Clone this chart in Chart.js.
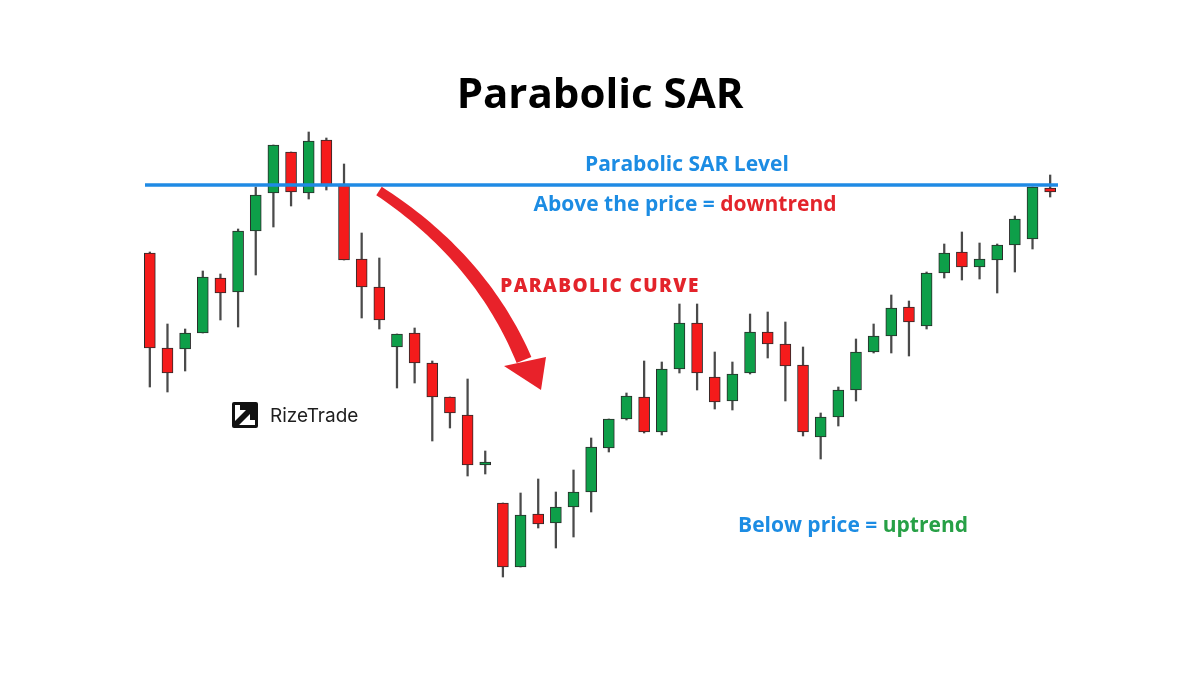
<!DOCTYPE html>
<html>
<head>
<meta charset="utf-8">
<script src="https://cdn.jsdelivr.net/npm/chart.js@4.4.1/dist/chart.umd.min.js"></script>
<style>
  html, body { margin: 0; padding: 0; background: #fff; }
  #wrap { position: relative; width: 1200px; height: 675px; overflow: hidden; font-family: "Open Sans", sans-serif; }
  #chart { position: absolute; left: 0; top: 0; }
  .lbl { position: absolute; white-space: nowrap; font-weight: 700; line-height: 1; }
  .blue { color: #1c8ce3; }
  .red { color: #e3242b; }
  .green { color: #27a046; }
  #title { left: 0; width: 1200px; text-align: center; top: 71px; font-size: 42px; color: #000; }
  #sarLevel { left: 585px; width: 200px; text-align: center; top: 153px; font-size: 21px; }
  #above { left: 485px; width: 400px; text-align: center; top: 193px; font-size: 21px; }
  #curve { left: 450px; width: 300px; text-align: center; top: 276px; font-size: 19px; font-weight: 800; letter-spacing: 1.4px; }
  #below { left: 703px; width: 300px; text-align: center; top: 514px; font-size: 21px; }
  #logo { position: absolute; left: 232px; top: 402px; height: 26px; }
  #logo svg { position: absolute; left: 0; top: 0; }
  #logo span { position: absolute; left: 38px; top: 2px; font-family: Inter, sans-serif; font-size: 19px; font-weight: 400; color: #1e1e1e; white-space: nowrap; }
</style>
</head>
<body>
<div id="wrap">
  <canvas id="chart" width="1200" height="675"></canvas>
  <div class="lbl" id="title">Parabolic SAR</div>
  <div class="lbl blue" id="sarLevel">Parabolic SAR Level</div>
  <div class="lbl blue" id="above">Above the price = <span class="red">downtrend</span></div>
  <div class="lbl red" id="curve">PARABOLIC CURVE</div>
  <div class="lbl blue" id="below">Below price = <span class="green">uptrend</span></div>
  <div id="logo">
    <svg width="26" height="26" viewBox="0 0 26 26">
      <rect x="0" y="0" width="26" height="26" rx="2" fill="#111"/>
      <rect x="3" y="3" width="20" height="20" fill="#fff"/>
      <polygon points="3,19 14,8 8,8 8,3 23,3 23,18 18,18 18,12 7,23 3,23" fill="#111"/>
    </svg>
    <span>RizeTrade</span>
  </div>
</div>
<script>
// candle data
var candles = ['1','2','3','4','5','6','7','8','9','10','11','12','13','14','15','16','17','18','19','20','21','22','23','24','25','26',
               '27','28','29','30','31','32','33','34','35','36','37','38','39','40','41','42','43','44','45','46','47','48','49','50','51','52'];
var opens  = [347,252,251,267,322,308,369,407,448,407,460,416,341,313,253,267,237,203,185,135, 97, 33, 86, 77, 93,108,
              152,181,203,168,231,277,223,199,227,268,256,235,163,183,210,248,264,293,274,327,348,333,340,355,361,412];
var highs  = [348,276,271,329,326,371,413,455,448,468,462,436,367,342,266,272,239,203,221,149, 97,107,121,108,130,162,
              181,207,239,238,296,296,248,238,286,288,278,253,187,213,261,276,305,299,328,356,368,357,356,384,413,425];
var lows   = [213,208,229,267,280,273,325,373,394,401,410,340,282,271,212,217,159,172,124,126, 23, 33, 72, 52, 63, 88,
              148,180,167,165,227,210,191,190,226,242,199,164,141,174,199,247,247,244,271,322,320,321,307,328,351,403];
var closes = [252,227,267,323,307,369,405,455,408,459,414,340,313,280,266,237,203,187,135,138, 33, 85, 76, 93,108,153,
              181,204,168,231,277,227,198,226,268,256,234,168,183,210,248,264,292,278,327,347,333,341,355,381,413,408];
var sarLevel = 415;

var upColor = '#0e9f49', downColor = '#f51b1b';

var bodies = [], wicks = [], bodyColors = [];
for (let i = 0; i < candles.length; i++) {
    bodies.push([Math.min(opens[i], closes[i]), Math.max(opens[i], closes[i])]);
    wicks.push([lows[i], highs[i]]);
    bodyColors.push(closes[i] >= opens[i] ? upColor : downColor);
}

// horizontal SAR line + the red curved arrow
var overlay = {
    id: 'overlay',
    afterDatasetsDraw: function(chart) {
        var ctx = chart.ctx, y = chart.scales.y, area = chart.chartArea;
        var py = y.getPixelForValue(sarLevel);
        ctx.save();
        ctx.strokeStyle = '#1f8ae4';
        ctx.lineWidth = 3.5;
        ctx.beginPath();
        ctx.moveTo(area.left + 4, py);
        ctx.lineTo(area.right - 1, py);
        ctx.stroke();

        // arrow body along a quadratic curve, widening toward the head
        var p0 = [379, 191], p1 = [481, 258], p2 = [524, 360];
        var left = [], right = [], n = 40;
        for (let k = 0; k <= n; k++) {
            var t = k / n, u = 1 - t;
            var x = u*u*p0[0] + 2*u*t*p1[0] + t*t*p2[0];
            var yy = u*u*p0[1] + 2*u*t*p1[1] + t*t*p2[1];
            var dx = 2*u*(p1[0]-p0[0]) + 2*t*(p2[0]-p1[0]);
            var dy = 2*u*(p1[1]-p0[1]) + 2*t*(p2[1]-p1[1]);
            var len = Math.sqrt(dx*dx + dy*dy);
            var w = 5 + 3 * t;
            left.push([x - dy/len*w, yy + dx/len*w]);
            right.push([x + dy/len*w, yy - dx/len*w]);
        }
        ctx.fillStyle = '#e8222a';
        ctx.beginPath();
        ctx.moveTo(left[0][0], left[0][1]);
        for (let k = 1; k < left.length; k++) ctx.lineTo(left[k][0], left[k][1]);
        for (let k = right.length - 1; k >= 0; k--) ctx.lineTo(right[k][0], right[k][1]);
        ctx.closePath();
        ctx.fill();
        // head
        ctx.beginPath();
        ctx.moveTo(504, 366);
        ctx.lineTo(546, 357);
        ctx.lineTo(541, 390);
        ctx.closePath();
        ctx.fill();
        ctx.restore();
    }
};

var chart = new Chart(document.getElementById('chart'), {
    type: 'bar',
    data: {
        labels: candles,
        datasets: [{
            label: 'body',
            data: bodies,
            backgroundColor: bodyColors,
            borderColor: '#2a2a2a',
            borderWidth: 1,
            borderSkipped: false,
            barThickness: 11,
            grouped: false,
            order: 0
        }, {
            label: 'wick',
            data: wicks,
            backgroundColor: '#4a4a4a',
            borderWidth: 0,
            barThickness: 1.6,
            grouped: false,
            order: 1
        }]
    },
    options: {
        responsive: false,
        animation: false,
        layout: { padding: { left: 141, right: 141, top: 0, bottom: 0 } },
        plugins: { legend: { display: false }, tooltip: { enabled: false }, title: { display: false } },
        scales: {
            x: { display: false, offset: true },
            y: { display: false, min: -75, max: 600 }
        }
    },
    plugins: [overlay]
});
</script>
</body>
</html>
